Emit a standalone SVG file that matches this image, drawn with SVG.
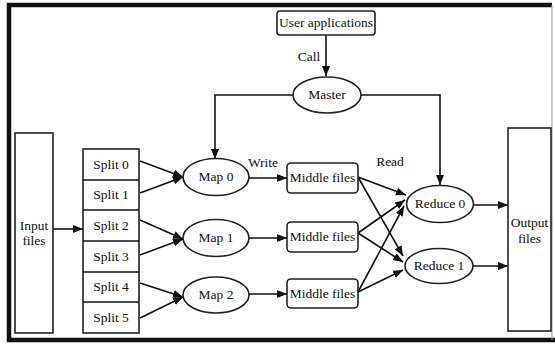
<svg xmlns="http://www.w3.org/2000/svg" width="555" height="345" viewBox="0 0 555 345" font-family="Liberation Serif, DejaVu Serif, serif" font-size="13">
<style>
.box{fill:#fff;stroke:#222;stroke-width:1.6}
.ell{fill:#fff;stroke:#222;stroke-width:1.6}
.ln{fill:none;stroke:#111;stroke-width:1.6}
text{font-family:"Liberation Serif","DejaVu Serif",serif;font-size:13.5px;fill:#111;text-anchor:middle}
</style>
<defs>
<marker id="ah" markerUnits="userSpaceOnUse" markerWidth="10" markerHeight="10" viewBox="0 0 10 10" refX="10" refY="5" orient="auto">
<path d="M0,1 L10,5 L0,9 Z" fill="#111"/>
</marker>
</defs>
<rect x="0" y="0" width="555" height="345" fill="#fff"/>
<g id="frame">
<path d="M552,5 L9,5 L9,340 L555,340" fill="none" stroke="#111" stroke-width="4.5"/>
<line x1="552" y1="5" x2="552" y2="340" stroke="#999" stroke-width="1"/>
</g>
<g id="connectors" class="ln">
<line x1="326" y1="35" x2="326" y2="76" marker-end="url(#ah)"/>
<polyline points="293,95 215,95 215,159" marker-end="url(#ah)"/>
<polyline points="361,95 440,95 440,185" marker-end="url(#ah)"/>
<line x1="53" y1="229" x2="83" y2="229" marker-end="url(#ah)"/>
<line x1="140" y1="161" x2="183" y2="177" marker-end="url(#ah)"/>
<line x1="140" y1="193" x2="183" y2="177" marker-end="url(#ah)"/>
<line x1="140" y1="220" x2="183" y2="239" marker-end="url(#ah)"/>
<line x1="140" y1="255" x2="183" y2="239" marker-end="url(#ah)"/>
<line x1="140" y1="283" x2="183" y2="297" marker-end="url(#ah)"/>
<line x1="140" y1="318" x2="183" y2="297" marker-end="url(#ah)"/>
<line x1="249" y1="178" x2="287" y2="178" marker-end="url(#ah)"/>
<line x1="249" y1="238" x2="287" y2="238" marker-end="url(#ah)"/>
<line x1="249" y1="294" x2="287" y2="294" marker-end="url(#ah)"/>
<line x1="358" y1="177" x2="406" y2="195" marker-end="url(#ah)"/>
<line x1="358" y1="233" x2="405" y2="200" marker-end="url(#ah)"/>
<line x1="358" y1="292" x2="404" y2="206" marker-end="url(#ah)"/>
<line x1="358" y1="177" x2="403" y2="256" marker-end="url(#ah)"/>
<line x1="358" y1="233" x2="403" y2="262" marker-end="url(#ah)"/>
<line x1="358" y1="292" x2="403" y2="270" marker-end="url(#ah)"/>
<line x1="474" y1="205" x2="508" y2="205" marker-end="url(#ah)"/>
<line x1="473" y1="266" x2="508" y2="266" marker-end="url(#ah)"/>
</g>
<g id="user-applications">
<rect class="box" x="277" y="11" width="98" height="24" rx="3"/>
<text x="326" y="27">User applications</text>
</g>
<g id="call-label"><text x="309" y="61">Call</text></g>
<g id="master">
<ellipse class="ell" cx="327" cy="95" rx="34" ry="18"/>
<text x="327" y="99">Master</text>
</g>
<g id="input-files">
<rect class="box" x="15" y="133" width="38" height="200"/>
<text x="34" y="230">Input</text>
<text x="34" y="245">files</text>
</g>
<g id="splits">
<rect class="box" x="83" y="149" width="56" height="184"/>
<line class="ln" x1="83" y1="180" x2="139" y2="180"/>
<line class="ln" x1="83" y1="210" x2="139" y2="210"/>
<line class="ln" x1="83" y1="241" x2="139" y2="241"/>
<line class="ln" x1="83" y1="272" x2="139" y2="272"/>
<line class="ln" x1="83" y1="302" x2="139" y2="302"/>
<text x="111" y="169">Split 0</text>
<text x="111" y="199">Split 1</text>
<text x="111" y="230">Split 2</text>
<text x="111" y="261">Split 3</text>
<text x="111" y="291">Split 4</text>
<text x="111" y="322">Split 5</text>
</g>
<g id="map0">
<ellipse class="ell" cx="216" cy="177" rx="33" ry="18.5"/>
<text x="216" y="181">Map 0</text>
</g>
<g id="map1">
<ellipse class="ell" cx="216" cy="238" rx="33" ry="18.5"/>
<text x="216" y="242">Map 1</text>
</g>
<g id="map2">
<ellipse class="ell" cx="216" cy="295" rx="33" ry="18"/>
<text x="216" y="299">Map 2</text>
</g>
<g id="write-label"><text x="263" y="167">Write</text></g>
<g id="read-label"><text x="390" y="166">Read</text></g>
<g id="middle0">
<rect class="box" x="287" y="163" width="71" height="30" rx="4"/>
<text x="322.5" y="182">Middle files</text>
</g>
<g id="middle1">
<rect class="box" x="287" y="222" width="71" height="30" rx="4"/>
<text x="322.5" y="241">Middle files</text>
</g>
<g id="middle2">
<rect class="box" x="287" y="279" width="71" height="29" rx="4"/>
<text x="322.5" y="298">Middle files</text>
</g>
<g id="reduce0">
<ellipse class="ell" cx="440" cy="204" rx="33.5" ry="18.5"/>
<text x="440" y="208">Reduce 0</text>
</g>
<g id="reduce1">
<ellipse class="ell" cx="439" cy="266" rx="34" ry="17.5"/>
<text x="439" y="270">Reduce 1</text>
</g>
<g id="output-files">
<rect class="box" x="508" y="128" width="43" height="203"/>
<text x="529.5" y="227">Output</text>
<text x="529.5" y="243">files</text>
</g>
</svg>
